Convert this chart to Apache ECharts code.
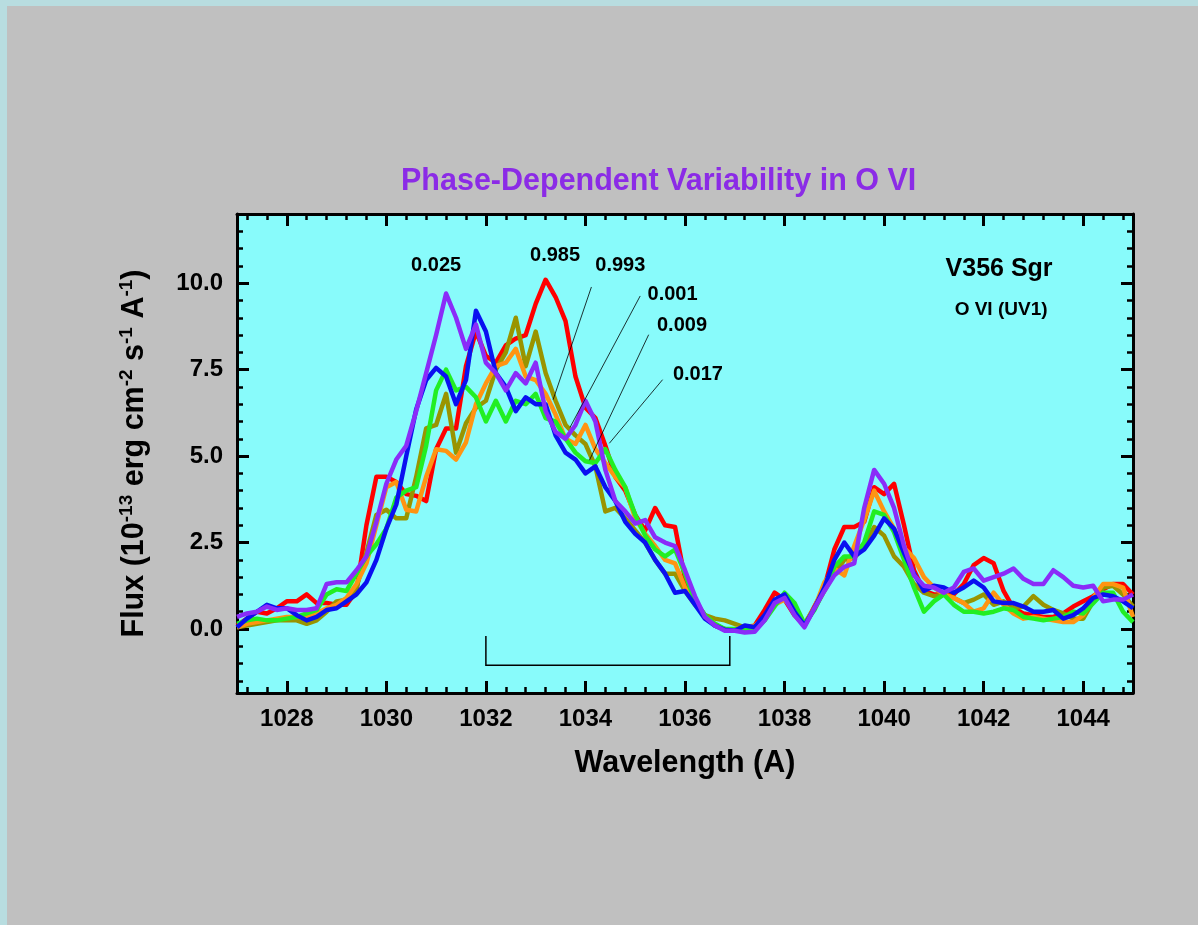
<!DOCTYPE html>
<html><head><meta charset="utf-8">
<script src="https://cdn.jsdelivr.net/npm/echarts@6/dist/echarts.min.js"></script>
<style>html,body{margin:0;padding:0;background:#c0c0c0;}#c{width:1198px;height:925px;}</style>
</head><body><div id="c"></div>
<script>
const wavelength = [1027.0,1027.2,1027.4,1027.6,1027.8,1028.0,1028.2,1028.4,1028.6,1028.8,
 1029.0,1029.2,1029.4,1029.6,1029.8,1030.0,1030.2,1030.4,1030.6,1030.8,
 1031.0,1031.2,1031.4,1031.6,1031.8,1032.0,1032.2,1032.4,1032.6,1032.8,
 1033.0,1033.2,1033.4,1033.6,1033.8,1034.0,1034.2,1034.4,1034.6,1034.8,
 1035.0,1035.2,1035.4,1035.6,1035.8,1036.0,1036.2,1036.4,1036.6,1036.8,
 1037.0,1037.2,1037.4,1037.6,1037.8,1038.0,1038.2,1038.4,1038.6,1038.8,
 1039.0,1039.2,1039.4,1039.6,1039.8,1040.0,1040.2,1040.4,1040.6,1040.8,
 1041.0,1041.2,1041.4,1041.6,1041.8,1042.0,1042.2,1042.4,1042.6,1042.8,
 1043.0,1043.2,1043.4,1043.6,1043.8,1044.0,1044.2,1044.4,1044.6,1044.8,1045.0];

const flux_0985 = [0.1,0.3,0.5,0.45,0.6, 0.8,0.8,1.0,0.75,0.75, 0.7,0.7,1.1,3.0,4.4,
 4.4,4.25,3.9,3.85,3.7, 5.2,5.8,5.8,7.6,8.6, 7.9,7.7,8.2,8.4,8.5,
 9.4,10.1,9.6,8.9,7.3, 6.4,6.1,5.3,4.4,4.0, 3.3,2.85,3.5,3.0,2.95,
 1.45,0.8,0.4,0.1,0.0, -0.05,0.0,0.1,0.55,1.05, 0.85,0.4,0.1,0.65,1.2,
 2.3,2.95,2.95,3.1,4.1, 3.9,4.2,3.0,1.7,1.1, 1.0,1.0,1.0,1.3,1.85,
 2.05,1.9,1.1,0.6,0.45, 0.4,0.35,0.35,0.45,0.65, 0.8,0.95,1.15,1.3,1.3, 1.0];

const flux_0993 = [0.05,0.1,0.15,0.2,0.25, 0.25,0.25,0.15,0.25,0.5, 0.8,0.85,1.2,2.2,3.3,
 3.45,3.2,3.2,4.4,5.8, 5.9,6.8,5.1,5.95,6.4, 6.6,7.5,8.0,9.0,7.6,
 8.6,7.4,6.6,5.9,5.6, 5.35,4.7,3.4,3.5,3.2, 2.85,2.5,2.0,1.6,1.6,
 1.1,0.7,0.4,0.3,0.25, 0.15,0.05,0.05,0.35,0.8, 0.95,0.6,0.15,0.6,1.1,
 1.6,2.0,2.05,2.4,2.95, 2.7,2.1,1.8,1.3,1.05, 0.95,1.0,0.9,0.75,0.85,
 1.0,0.7,0.8,0.6,0.65, 0.95,0.7,0.55,0.45,0.3, 0.3,0.8,1.2,1.25,1.0, 0.65];

const flux_0001 = [0.05,0.15,0.2,0.25,0.3, 0.35,0.35,0.35,0.45,0.6, 0.7,0.9,1.3,1.9,3.0,
 4.1,4.25,3.45,3.4,4.4, 5.2,5.15,4.9,5.4,6.5, 7.1,7.6,7.7,8.1,7.3,
 7.2,6.8,6.2,5.5,5.35, 5.9,5.2,4.8,4.4,4.1, 3.2,2.75,2.4,2.0,1.9,
 1.2,0.8,0.35,0.15,-0.02, 0.0,0.05,0.1,0.3,0.7, 0.85,0.55,0.15,0.6,1.35,
 1.75,1.55,2.4,3.15,4.0, 3.4,2.9,2.35,2.05,1.5, 1.2,1.0,0.9,0.75,0.5,
 0.6,1.05,0.7,0.45,0.3, 0.35,0.3,0.25,0.2,0.2, 0.4,0.9,1.3,1.3,1.2, 0.35];

const flux_0009 = [0.15,0.25,0.3,0.25,0.25, 0.3,0.35,0.45,0.55,1.0, 1.15,1.1,1.6,2.1,2.45,
 2.9,3.8,4.0,4.1,5.3, 6.9,7.5,6.9,7.0,6.7, 6.0,6.6,6.0,6.6,6.5,
 6.8,6.1,6.0,5.5,5.1, 4.85,4.8,5.2,4.6,4.1, 3.3,2.7,2.3,2.1,2.3,
 1.6,0.8,0.4,0.15,0.0, 0.0,0.0,-0.02,0.25,0.65, 1.05,0.75,0.15,0.55,1.15,
 1.8,2.1,2.1,2.5,3.4, 3.3,2.8,2.0,1.2,0.5, 0.8,1.0,0.7,0.5,0.5,
 0.45,0.5,0.6,0.55,0.35, 0.3,0.25,0.3,0.35,0.5, 0.45,0.75,1.05,1.05,0.5, 0.2];

const flux_0017 = [0.05,0.3,0.5,0.7,0.6, 0.6,0.4,0.25,0.35,0.55, 0.6,0.8,1.0,1.35,2.0,
 2.9,3.6,5.0,6.35,7.2, 7.55,7.3,6.5,7.2,9.2, 8.6,7.4,7.0,6.3,6.7,
 6.5,6.5,5.6,5.1,4.9, 4.5,4.7,4.1,3.7,3.1, 2.75,2.5,2.0,1.6,1.05,
 1.1,0.7,0.3,0.1,-0.02, -0.05,0.1,0.05,0.4,0.85, 1.0,0.5,0.1,0.6,1.2,
 2.0,2.5,2.1,2.3,2.7, 3.2,2.9,2.2,1.6,1.1, 1.25,1.2,1.05,1.2,1.4,
 1.2,0.8,0.75,0.75,0.65, 0.5,0.5,0.55,0.3,0.4, 0.6,0.9,1.0,0.95,0.8, 0.6];

const flux_0025 = [0.35,0.45,0.5,0.65,0.55, 0.6,0.55,0.55,0.6,1.3, 1.35,1.35,1.7,2.1,3.1,
 4.2,4.9,5.3,6.3,7.4, 8.5,9.7,9.0,8.1,8.8, 7.7,7.4,6.9,7.4,7.1,
 7.7,6.3,5.7,5.5,5.9, 6.6,6.0,4.6,3.7,3.4, 3.05,3.15,2.65,2.5,2.4,
 1.7,0.95,0.35,0.1,-0.05, -0.05,-0.1,-0.08,0.25,0.75, 0.9,0.4,0.05,0.6,1.1,
 1.55,1.8,1.9,3.5,4.6, 4.2,3.5,2.4,1.55,1.25, 1.2,1.05,1.2,1.65,1.75,
 1.4,1.5,1.6,1.75,1.45, 1.3,1.3,1.7,1.5,1.25, 1.2,1.25,0.8,0.85,0.85, 1.0];

const phaseNames = ['0.985','0.993','0.001','0.009','0.017','0.025'];
const phaseColors = ['#ff0000','#999400','#ff9412','#22ee22','#0a10f0','#8a2cf8'];
const phaseFlux = [flux_0985, flux_0993, flux_0001, flux_0009, flux_0017, flux_0025];

const xMajorTicks = [1028,1030,1032,1034,1036,1038,1040,1042,1044];
const xMinorTicks = [1027.2,1027.6,1028.4,1028.8,1029.2,1029.6,1030.4,1030.8,1031.2,1031.6,
 1032.4,1032.8,1033.2,1033.6,1034.4,1034.8,1035.2,1035.6,1036.4,1036.8,1037.2,1037.6,
 1038.4,1038.8,1039.2,1039.6,1040.4,1040.8,1041.2,1041.6,1042.4,1042.8,1043.2,1043.6,1044.4,1044.8];
const yMajorTicks = [0,2.5,5,7.5,10];
const yMinorTicks = [-1.5,-1,-0.5,0.5,1,1.5,2,3,3.5,4,4.5,5.5,6,6.5,7,8,8.5,9,9.5,10.5,11,11.5];

// label annotations (text, wavelength, flux)
const labelTexts = ['0.025','0.985','0.993','0.001','0.009','0.017'];
const labelX = [1031.0,1033.39,1034.70,1035.75,1035.94,1036.26];
const labelY = [10.5,10.79,10.5,9.67,8.79,7.36];
const starTexts = ['V356 Sgr','O VI (UV1)'];
const starX = [1042.31,1042.35];
const starY = [10.42,9.24];

// connector lines [x1,y1,x2,y2]
const connectorLines = [
  [1034.12,9.89,1033.35,6.63],
  [1035.10,9.63,1033.69,5.83],
  [1035.27,8.51,1034.08,4.88],
  [1035.55,7.21,1034.48,5.37]
];
const bracketX = [1032,1032,1036.9,1036.9];
const bracketY = [-0.2,-1.05,-1.05,-0.2];

const FONT = 'Liberation Sans, Arial, sans-serif';
const chart = echarts.init(document.getElementById('c'));

function xAx(pos, ticks, len, line, labels, extra) {
  return Object.assign({
    type:'value', min:1027, max:1045, position:pos, gridIndex:0,
    axisLine:{show:line, onZero:false, lineStyle:{color:'#000', width:3}},
    axisTick:{show:true, inside:true, length:len, customValues:ticks, lineStyle:{color:'#000', width:len>8?3:2.5}},
    axisLabel:{show:labels, customValues:ticks, color:'#000', fontSize:24, fontWeight:'bold', fontFamily:FONT, margin:14,
      formatter:function(v){return String(Math.round(v));}},
    splitLine:{show:false}
  }, extra||{});
}
function yAx(pos, ticks, len, line, labels, extra) {
  return Object.assign({
    type:'value', min:-1.85, max:12, position:pos, gridIndex:0,
    axisLine:{show:line, onZero:false, lineStyle:{color:'#000', width:3}},
    axisTick:{show:true, inside:true, length:len, customValues:ticks, lineStyle:{color:'#000', width:len>8?3:2.5}},
    axisLabel:{show:labels, customValues:ticks, color:'#000', fontSize:24, fontWeight:'bold', fontFamily:FONT, margin:14,
      formatter:function(v){return v.toFixed(1);}},
    splitLine:{show:false}
  }, extra||{});
}

const series = phaseFlux.map(function(arr, i){
  return {
    name: phaseNames[i], type:'line', xAxisIndex:0, yAxisIndex:0,
    data: wavelength.map(function(w, j){ return [w, arr[j]]; }),
    showSymbol:false, symbol:'none', smooth:false, clip:true,
    lineStyle:{color:phaseColors[i], width:4.5, join:'round'},
    z: 3 + i, silent:true, animation:false
  };
});

series.push({
  type:'lines', coordinateSystem:'cartesian2d', xAxisIndex:0, yAxisIndex:0, z:10, silent:true,
  lineStyle:{color:'#000', width:0.8, opacity:1},
  data: connectorLines.map(function(c){ return {coords:[[c[0],c[1]],[c[2],c[3]]]}; })
});
series.push({
  type:'lines', coordinateSystem:'cartesian2d', xAxisIndex:0, yAxisIndex:0, z:10, silent:true, polyline:true,
  lineStyle:{color:'#000', width:1.5, opacity:1},
  data: [{coords: bracketX.map(function(x,i){ return [x, bracketY[i]]; })}]
});
series.push({
  type:'scatter', xAxisIndex:0, yAxisIndex:0, z:12, silent:true, symbolSize:0,
  itemStyle:{color:'#000', opacity:1},
  label:{show:true, position:[0,0], align:'center', verticalAlign:'middle', formatter:'{b}', color:'#000', opacity:1,
    textBorderWidth:0, fontSize:20, fontWeight:'bold', fontFamily:FONT},
  data: labelTexts.map(function(t,i){ return {name:t, value:[labelX[i], labelY[i]]}; })
    .concat([
      {name:starTexts[0], value:[starX[0], starY[0]], label:{fontSize:25}},
      {name:starTexts[1], value:[starX[1], starY[1]], label:{fontSize:19}}
    ])
});

chart.setOption({
  animation:false,
  backgroundColor:'#c0c0c0',
  textStyle:{fontFamily:FONT},
  title:{text:'Phase-Dependent Variability in O VI', left:396, top:161,
    textStyle:{color:'#8b2be6', fontSize:30.5, fontWeight:'bold', fontFamily:FONT}},
  graphic:[
    {type:'rect', shape:{x:0,y:0,width:1198,height:6}, style:{fill:'#b8dde0'}, z:100},
    {type:'rect', shape:{x:0,y:0,width:7,height:925}, style:{fill:'#b8dde0'}, z:100}
  ],
  grid:{left:237, right:65, top:214, bottom:232, show:true, backgroundColor:'#88fbfb', borderWidth:0, containLabel:false},
  xAxis:[
    xAx('bottom', xMajorTicks, 12, true, true, {
      name:'Wavelength (A)', nameLocation:'middle', nameGap:55,
      nameTextStyle:{color:'#000', fontSize:30.5, fontWeight:'bold', fontFamily:FONT}}),
    xAx('top', xMajorTicks, 12, true, false),
    xAx('bottom', xMinorTicks, 6, false, false),
    xAx('top', xMinorTicks, 6, false, false)
  ],
  yAxis:[
    yAx('left', yMajorTicks, 12, true, true, {
      name:'Flux (10{s|-13} erg cm{s|-2} s{s|-1} A{s|-1})', nameLocation:'middle', nameGap:84,
      nameTextStyle:{color:'#000', fontSize:30.5, fontWeight:'bold', fontFamily:FONT, lineHeight:36,
        rich:{s:{fontSize:19, fontWeight:'bold', fontFamily:FONT, color:'#000', verticalAlign:'top', lineHeight:19}}}}),
    yAx('right', yMajorTicks, 12, true, false),
    yAx('left', yMinorTicks, 6, false, false),
    yAx('right', yMinorTicks, 6, false, false)
  ],
  series: series
});
</script></body></html>
